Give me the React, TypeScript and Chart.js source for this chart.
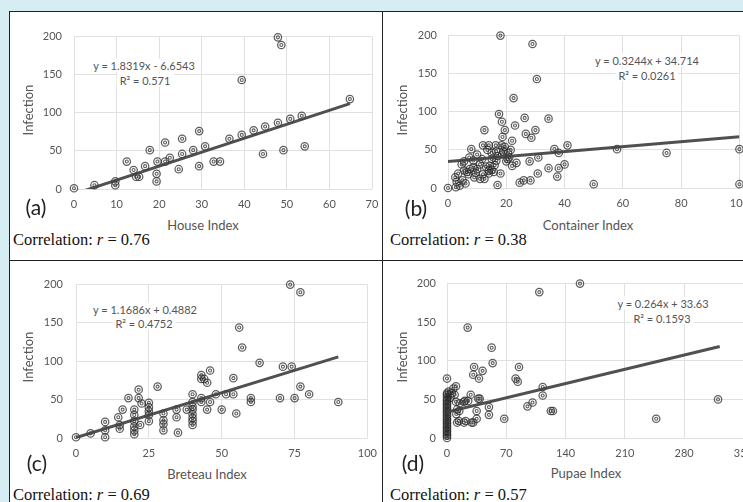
import React, { useEffect, useRef } from "react";
import { Chart, registerables } from "chart.js";

Chart.register(...registerables);

type Pt = [number, number];

// ---------- data ----------
const houseIndexPoints: Pt[] = [
  [0, 1], [4.8, 5], [9.7, 10], [9.7, 5], [12.4, 36], [14, 25], [14.6, 16], [15.3, 16],
  [16.7, 30], [17.8, 51], [19.4, 20], [19.4, 10], [19.6, 36], [21.4, 61], [21.4, 36],
  [22.5, 41], [24.6, 26], [25.4, 66], [25.4, 46], [28, 51], [29.4, 76], [29.4, 30],
  [30.8, 56], [32.8, 36], [34.3, 36], [36.5, 66], [39.4, 71], [39.4, 143], [42.2, 77],
  [44.4, 46], [44.9, 82], [47.9, 87], [47.9, 199], [48.7, 189], [49.2, 51], [50.8, 92],
  [53.5, 96], [54.2, 56], [64.8, 118],
];

const containerIndexPoints: Pt[] = [
  [0, 0], [2.7, 1], [3, 8], [2.5, 14], [3.5, 19], [5, 10], [5.5, 23], [4.7, 31], [5.5, 35],
  [7.3, 40], [8, 51], [6.5, 21], [7.5, 25], [7, 18], [8.7, 27], [8.7, 36], [10, 44], [11, 31],
  [11.7, 38], [11, 12], [12.5, 12], [12, 56], [12.5, 76], [14, 56], [14, 23], [14.3, 29],
  [15, 38], [15, 46], [16.4, 56], [16.5, 48], [16.6, 36], [15.7, 21], [14, 19], [15, 24],
  [17, 4], [18, 19], [17.5, 97], [18.5, 87], [18.7, 67], [18.4, 56], [19, 48], [20.6, 46],
  [21, 40], [22, 62], [19.5, 76], [23, 82], [22, 29], [23.5, 33], [24.6, 7], [26, 10],
  [28.3, 10], [28, 35], [31, 40], [30.8, 19], [26.3, 92], [26.7, 71], [28.6, 66], [30, 76],
  [18, 200], [29, 189], [30.5, 143], [22.5, 118], [34.5, 91], [36.5, 51], [41, 56], [38, 46],
  [34.5, 26], [37.5, 15], [38, 26], [40, 31], [50, 5], [58, 51], [75, 46], [100, 51],
  [100, 5], [4, 3], [6, 6], [9, 14], [9.5, 20], [10, 25], [12, 18], [13, 28], [13.5, 50],
  [16, 30], [17, 42], [18.5, 44], [19.5, 54], [21.5, 50], [20, 35], [20.5, 38],
];

const breteauIndexPoints: Pt[] = [
  [0, 1], [5, 6], [10, 10], [10, 21], [10, 1], [14.5, 27], [15, 17], [15, 12], [16, 37],
  [18, 52], [20, 37], [20, 30], [20, 22], [20, 15], [20, 10], [20, 5], [21.5, 63], [21.5, 52],
  [22.5, 45], [22, 17], [25, 46], [25, 40], [25, 35], [25, 30], [25, 22], [28, 67], [30, 32],
  [30, 23], [30, 18], [30, 10], [34.5, 37], [34.5, 27], [35, 7], [38, 37], [40, 57], [40, 47],
  [40, 41], [40, 37], [40, 31], [40, 26], [40, 22], [40, 17], [43, 82], [43, 77], [44, 77],
  [45, 72], [46, 88], [43, 52], [43, 47], [46, 47], [45, 37], [48, 57], [50, 37], [51.5, 57],
  [54, 78], [54, 57], [55, 32], [56, 144], [57, 118], [60, 52], [60, 47], [63, 98], [70, 52],
  [71, 93], [74, 93], [73.5, 200], [77, 190], [75, 52], [77, 67], [80, 57], [90, 47],
];

const pupaeIndexPoints: Pt[] = [
  [0, 0], [0, 3], [0, 5], [0, 8], [0, 10], [0, 13], [0, 15], [0, 18], [0, 20], [0, 23],
  [0, 25], [0, 28], [0, 30], [0, 33], [0, 35], [0, 38], [0, 40], [0, 43], [0, 45], [0, 48],
  [0, 50], [0, 53], [0, 56], [0, 58], [0, 77], [2, 60], [4, 52], [5.5, 58], [7.5, 64],
  [10.6, 67], [9, 56], [10.6, 47], [12, 37], [14.5, 35], [11, 31], [12, 20], [14, 22],
  [20, 20], [22, 22], [29, 20], [31, 20], [20, 47], [21, 48], [25, 48], [28, 56], [38.6, 51],
  [37, 51], [35, 35], [35, 25], [49.5, 40], [49.5, 30], [24.4, 143], [109, 189], [157, 200],
  [52.7, 117], [53.9, 97], [32, 92], [42, 87], [31, 82], [37.7, 77], [85, 92], [81, 77],
  [83.5, 73], [67.6, 25], [95, 41], [101, 46], [113, 66], [113, 55], [122.6, 35], [125, 35],
  [247, 25], [320, 50], [15, 45],
];

const houseTrend: Pt[] = [[0, -6.65], [64.8, 112.1]];
const containerTrend: Pt[] = [[0, 34.7], [100, 67.2]];
const breteauTrend: Pt[] = [[0, 0.49], [90, 105.7]];
const pupaeTrend: Pt[] = [[0, 33.63], [322, 118.6]];

const infectionTicks = [0, 50, 100, 150, 200];
const houseTicks = [0, 10, 20, 30, 40, 50, 60, 70];
const containerTicks = [0, 20, 40, 60, 80, 100];
const breteauTicks = [0, 25, 50, 75, 100];
const pupaeTicks = [0, 70, 140, 210, 280, 350];

const panelTags = ["(a)", "(b)", "(c)", "(d)"];
const xTitles = ["House Index", "Container Index", "Breteau Index", "Pupae Index"];
const yTitle = "Infection";
const correlations = ["0.76", "0.38", "0.69", "0.57"];
const equations = [
  "y = 1.8319x - 6.6543",
  "y = 0.3244x + 34.714",
  "y = 1.1686x + 0.4882",
  "y = 0.264x + 33.63",
];
const rSquared = ["R² = 0.571", "R² = 0.0261", "R² = 0.4752", "R² = 0.1593"];

// ---------- layout / style ----------
const SANS = "Lato, 'Open Sans', 'DejaVu Sans', sans-serif";
const SERIF = "'Liberation Serif', 'DejaVu Serif', serif";
const GRID = "#e0e0e0";
const TEXT_GRAY = "#555555";
const MARK = "rgba(40,40,40,0.75)";
const TREND = "rgba(65,65,65,0.92)";

type Layout = {
  area: { l: number; r: number; t: number; b: number };
  yPad: number;
  xTitle: [number, number];
  yTitle: [number, number];
  tag: [number, number];
  corr: [number, number];
  eq: [number, number];
  r2: [number, number];
};

const layouts: Layout[] = [
  { area: { l: 74, r: 372, t: 30, b: 189 }, yPad: 12, xTitle: [203, 225], yTitle: [28, 110], tag: [36, 206], corr: [13, 240], eq: [144, 65], r2: [145, 80] },
  { area: { l: 448, r: 740, t: 30, b: 188 }, yPad: 11, xTitle: [588, 225], yTitle: [402, 110], tag: [416, 207], corr: [390, 240], eq: [647, 60], r2: [647, 75] },
  { area: { l: 76, r: 368, t: 277, b: 438 }, yPad: 13, xTitle: [207, 474], yTitle: [28, 357], tag: [37, 462], corr: [13, 495], eq: [145, 309], r2: [144, 323] },
  { area: { l: 447, r: 744, t: 278, b: 438 }, yPad: 11, xTitle: [586, 473], yTitle: [402, 357], tag: [413, 462], corr: [390, 495], eq: [663, 303], r2: [662, 318] },
];

const PAD_L = 46;
const PAD_T = 12;
const PAD_R = 18;
const X_H = 26;

function ScatterPanel(props: { points: Pt[]; trend: Pt[]; xTicks: number[]; layout: Layout }) {
  const { points, trend, xTicks, layout } = props;
  const ref = useRef<HTMLCanvasElement>(null);
  const { area } = layout;
  const w = area.r - area.l + PAD_L + PAD_R;
  const h = area.b - area.t + PAD_T + X_H;

  useEffect(() => {
    const pts = points.map(([x, y]) => ({ x, y }));
    const chart = new Chart(ref.current as HTMLCanvasElement, {
      type: "scatter",
      data: {
        datasets: [
          {
            data: trend.map(([x, y]) => ({ x, y })),
            showLine: true,
            borderColor: TREND,
            borderWidth: 3,
            pointRadius: 0,
            clip: 0,
          } as any,
          {
            data: pts,
            pointRadius: 3.7,
            borderWidth: 1.25,
            borderColor: MARK,
            backgroundColor: "rgba(255,255,255,0)",
            clip: false,
          } as any,
          {
            data: pts,
            pointRadius: 1.5,
            borderWidth: 1.1,
            borderColor: MARK,
            backgroundColor: "rgba(255,255,255,0)",
            clip: false,
          } as any,
        ],
      },
      options: {
        animation: false,
        responsive: false,
        maintainAspectRatio: false,
        devicePixelRatio: 1,
        events: [],
        layout: { padding: { left: 0, top: PAD_T, right: PAD_R, bottom: 0 } },
        plugins: { legend: { display: false }, tooltip: { enabled: false }, title: { display: false } },
        scales: {
          x: {
            type: "linear",
            min: xTicks[0],
            max: xTicks[xTicks.length - 1],
            afterBuildTicks: (s: any) => {
              s.ticks = xTicks.map((v) => ({ value: v }));
            },
            afterFit: (s: any) => {
              s.height = X_H;
            },
            grid: { color: GRID, drawTicks: false, lineWidth: 1 },
            border: { display: false },
            ticks: { padding: 9, color: TEXT_GRAY, font: { family: SANS, size: 11 }, maxRotation: 0 },
          },
          y: {
            type: "linear",
            min: infectionTicks[0],
            max: infectionTicks[infectionTicks.length - 1],
            afterBuildTicks: (s: any) => {
              s.ticks = infectionTicks.map((v) => ({ value: v }));
            },
            afterFit: (s: any) => {
              s.width = PAD_L;
            },
            grid: { color: GRID, drawTicks: false, lineWidth: 1 },
            border: { display: false },
            ticks: { padding: layout.yPad, color: TEXT_GRAY, font: { family: SANS, size: 11 } },
          },
        },
      } as any,
    });
    return () => chart.destroy();
  }, []);

  return (
    <canvas
      ref={ref}
      width={w}
      height={h}
      style={{ position: "absolute", left: area.l - PAD_L, top: area.t - PAD_T, width: w, height: h }}
    />
  );
}

function Txt(props: {
  x: number;
  y: number;
  size: number;
  font: string;
  color: string;
  center?: boolean;
  rotate?: boolean;
  bg?: string;
  children: React.ReactNode;
}) {
  const { x, y, size, font, color, center = true, rotate = false, bg, children } = props;
  return (
    <div
      style={{
        position: "absolute",
        left: x,
        top: y,
        transform: `translate(${center ? "-50%" : "0"}, -50%)${rotate ? " rotate(-90deg)" : ""}`,
        whiteSpace: "nowrap",
        fontSize: size,
        lineHeight: `${size + 2}px`,
        fontFamily: font,
        color,
        background: bg,
        padding: bg ? "0 3px" : 0,
      }}
    >
      {children}
    </div>
  );
}

const panelData = [
  { points: houseIndexPoints, trend: houseTrend, ticks: houseTicks },
  { points: containerIndexPoints, trend: containerTrend, ticks: containerTicks },
  { points: breteauIndexPoints, trend: breteauTrend, ticks: breteauTicks },
  { points: pupaeIndexPoints, trend: pupaeTrend, ticks: pupaeTicks },
];

export default function App() {
  return (
    <div
      style={{
        position: "fixed",
        left: 0,
        top: 0,
        width: 743,
        height: 502,
        overflow: "hidden",
        background: "#d6edf3",
      }}
    >
      <div
        style={{
          position: "absolute",
          left: 9,
          top: 11,
          width: 734,
          height: 491,
          background: "#ffffff",
          borderLeft: "1px solid #222",
          borderTop: "1px solid #222",
          boxSizing: "border-box",
        }}
      />
      <div style={{ position: "absolute", left: 382, top: 11, width: 1, height: 491, background: "#222" }} />
      <div style={{ position: "absolute", left: 9, top: 260, width: 734, height: 1, background: "#222" }} />

      {panelData.map((p, i) => {
        const L = layouts[i];
        return (
          <React.Fragment key={i}>
            <ScatterPanel points={p.points} trend={p.trend} xTicks={p.ticks} layout={L} />
            <Txt x={L.eq[0]} y={L.eq[1]} size={11} font={SANS} color={TEXT_GRAY} bg="#fff">
              {equations[i]}
            </Txt>
            <Txt x={L.r2[0]} y={L.r2[1]} size={11} font={SANS} color={TEXT_GRAY} bg="#fff">
              {rSquared[i]}
            </Txt>
            <Txt x={L.yTitle[0]} y={L.yTitle[1]} size={13} font={SANS} color={TEXT_GRAY} rotate>
              {yTitle}
            </Txt>
            <Txt x={L.xTitle[0]} y={L.xTitle[1]} size={13} font={SANS} color={TEXT_GRAY}>
              {xTitles[i]}
            </Txt>
            <Txt x={L.tag[0]} y={L.tag[1]} size={21} font={SANS} color="#222">
              {panelTags[i]}
            </Txt>
            <Txt x={L.corr[0]} y={L.corr[1]} size={16.5} font={SERIF} color="#111" center={false}>
              Correlation: <i>r</i> = {correlations[i]}
            </Txt>
          </React.Fragment>
        );
      })}
    </div>
  );
}
